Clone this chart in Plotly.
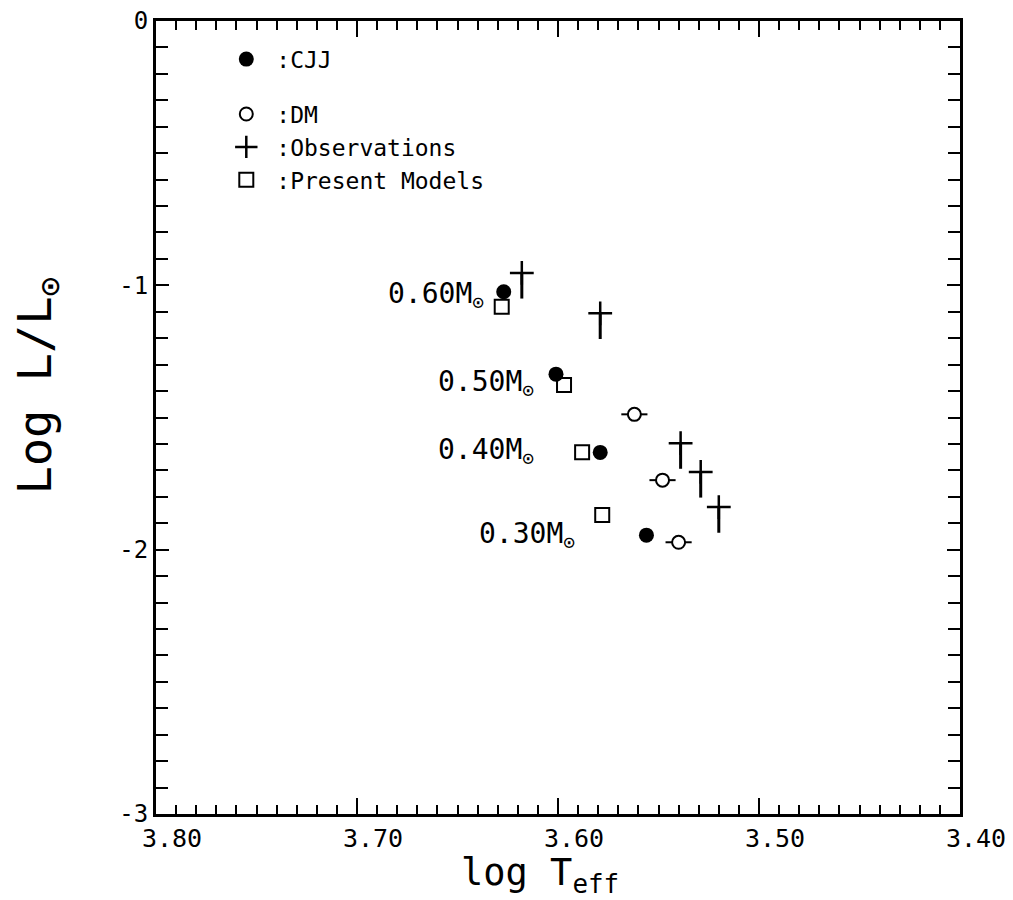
import plotly.graph_objects as go

# ---- data ----
mass_labels = ["0.60", "0.50", "0.40", "0.30"]
cjj_logT = [3.627, 3.601, 3.579, 3.556]
cjj_logL = [-1.024, -1.336, -1.632, -1.945]
pm_logT = [3.628, 3.597, 3.588, 3.578]
pm_logL = [-1.081, -1.377, -1.631, -1.869]
dm_logT = [3.562, 3.548, 3.540]
dm_logL = [-1.488, -1.737, -1.972]
obs_logT = [3.618, 3.579, 3.539, 3.529, 3.520]
obs_logL = [-0.953, -1.106, -1.597, -1.706, -1.839]
x_ticks = [3.80, 3.70, 3.60, 3.50, 3.40]
x_tick_text = ["3.80", "3.70", "3.60", "3.50", "3.40"]
y_ticks = [0, -1, -2, -3]
y_tick_text = ["0", "-1", "-2", "-3"]

# label placement (layout only)
label_anchor_x = [3.636, 3.611, 3.611, 3.5905]
label_anchor_y = [-1.037, -1.370, -1.627, -1.945]

FONT = "DejaVu Sans Mono"

fig = go.Figure()

fig.add_trace(go.Scatter(
    x=pm_logT, y=pm_logL, mode="markers", name=":Present Models",
    legendgroup="g2", legendrank=4,
    marker=dict(symbol="square-open", size=14, color="black", line=dict(width=2)),
))
fig.add_trace(go.Scatter(
    x=cjj_logT, y=cjj_logL, mode="markers", name=":CJJ",
    legendgroup="g1", legendrank=1,
    marker=dict(symbol="circle", size=15, color="black", line=dict(width=0)),
))
fig.add_trace(go.Scatter(
    x=dm_logT, y=dm_logL, mode="markers", name=":DM",
    legendgroup="g2", legendrank=2,
    marker=dict(symbol="circle", size=13, color="white", line=dict(width=2, color="black")),
    error_x=dict(type="constant", value=0.0065, width=0, thickness=2, color="black"),
))
fig.add_trace(go.Scatter(
    x=obs_logT, y=obs_logL, mode="markers", name=":Observations",
    legendgroup="g2", legendrank=3,
    marker=dict(symbol="cross-thin", size=17, color="black", line=dict(width=2.5, color="black")),
    error_y=dict(type="constant", symmetric=False, value=0.0, valueminus=0.097,
                 width=0, thickness=3, color="black"),
))

for lab, ax_, ay_ in zip(mass_labels, label_anchor_x, label_anchor_y):
    fig.add_annotation(
        x=ax_, y=ay_, xref="x", yref="y", text=f"{lab}M<sub>⊙</sub>",
        showarrow=False, xanchor="right", yanchor="middle",
        font=dict(family=FONT, size=28, color="black"),
    )

# axis titles
fig.add_annotation(
    x=-0.147, y=0.54, xref="paper", yref="paper", text="Log L/L<sub>⊙</sub>",
    textangle=-90, showarrow=False, xanchor="center", yanchor="middle",
    font=dict(family=FONT, size=47, color="black"),
)
fig.add_annotation(
    x=0.478, y=-0.077, xref="paper", yref="paper", text="log T<sub>eff</sub>",
    showarrow=False, xanchor="center", yanchor="middle",
    font=dict(family=FONT, size=37, color="black"),
)

axis_common = dict(
    showline=True, linewidth=3, linecolor="black", mirror="ticks",
    ticks="inside", tickwidth=2, tickcolor="black",
    showgrid=False, zeroline=False, automargin=False,
)

fig.update_xaxes(
    range=[3.80, 3.40], tickvals=x_ticks, ticktext=x_tick_text, ticklen=16,
    ticklabelshift=-16,
    tickfont=dict(family=FONT, size=25, color="black"),
    minor=dict(dtick=0.01, tick0=3.4, ticks="inside", ticklen=9, tickwidth=2, tickcolor="black", showgrid=False),
    **axis_common,
)
fig.update_yaxes(
    range=[-3, 0], tickvals=y_ticks, ticktext=y_tick_text, ticklen=13,
    tickfont=dict(family=FONT, size=24, color="black"),
    minor=dict(dtick=0.1, tick0=0, ticks="inside", ticklen=12, tickwidth=2, tickcolor="black", showgrid=False),
    **axis_common,
)

fig.update_layout(
    width=1013, height=900,
    margin=dict(l=156, r=53, t=21, b=86, autoexpand=False),
    plot_bgcolor="white", paper_bgcolor="white",
    showlegend=True,
    legend=dict(
        x=0.075, y=0.979, xanchor="left", yanchor="top",
        bgcolor="rgba(0,0,0,0)", borderwidth=0,
        font=dict(family=FONT, size=23, color="black"),
        traceorder="grouped", tracegroupgap=22, itemwidth=50,
    ),
)

fig.write_html("out.html")
